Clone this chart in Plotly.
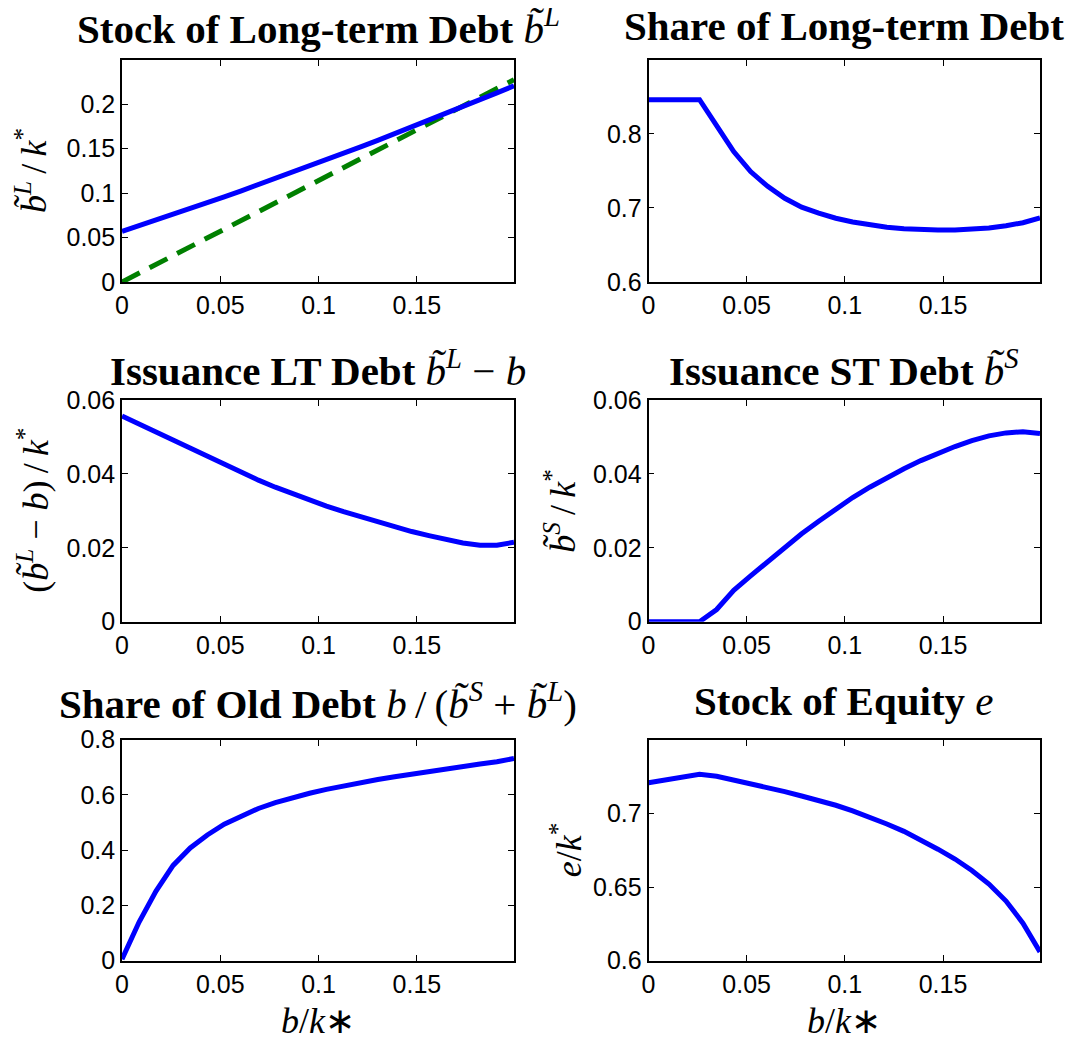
import plotly.graph_objects as go

# ---------------- data ----------------
x_grid = [0.0, 0.0087, 0.0173, 0.0260, 0.0347, 0.0434, 0.0520, 0.0607, 0.0694, 0.0780,
          0.0867, 0.0954, 0.1040, 0.1127, 0.1214, 0.1301, 0.1387, 0.1474, 0.1561, 0.1647,
          0.1734, 0.1821, 0.1907, 0.1994]

stock_lt = [0.0570, 0.0633, 0.0696, 0.0761, 0.0826, 0.0892, 0.0958, 0.1025, 0.1094, 0.1162,
            0.1232, 0.1302, 0.1373, 0.1445, 0.1518, 0.1591, 0.1665, 0.1740, 0.1816, 0.1891,
            0.1969, 0.2047, 0.2125, 0.2205]
ref_line_x = [0.0, 0.1994]
ref_line_y = [0.0, 0.2274]

share_lt = [0.846, 0.846, 0.846, 0.846, 0.811, 0.776, 0.749, 0.729, 0.713, 0.701,
            0.693, 0.686, 0.681, 0.677, 0.674, 0.672, 0.6705, 0.6700, 0.6703, 0.6712,
            0.673, 0.676, 0.680, 0.6865]

issue_lt = [0.0557, 0.0535, 0.0513, 0.0493, 0.0472, 0.0449, 0.0425, 0.0404, 0.0383, 0.0364,
            0.0346, 0.0329, 0.0313, 0.0298, 0.0284, 0.0271, 0.0258, 0.0244, 0.0233, 0.0222,
            0.0213, 0.0207, 0.0207, 0.0215]

issue_st = [0.0, 0.0, 0.0, 0.0, 0.0033, 0.0085, 0.0124, 0.0163, 0.0201, 0.0238,
            0.0272, 0.0305, 0.0336, 0.0364, 0.0390, 0.0414, 0.0436, 0.0456, 0.0474, 0.0490,
            0.0503, 0.0511, 0.0514, 0.0509]

share_old = [0.005, 0.140, 0.252, 0.345, 0.408, 0.455, 0.494, 0.525, 0.551, 0.572,
             0.591, 0.606, 0.620, 0.633, 0.645, 0.656, 0.666, 0.676, 0.685, 0.694,
             0.703, 0.712, 0.720, 0.732]

equity = [0.7208, 0.7227, 0.7246, 0.7265, 0.7252, 0.7228, 0.7203, 0.7176, 0.7148, 0.7118,
          0.7088, 0.7055, 0.7017, 0.6975, 0.6928, 0.6878, 0.6822, 0.6757, 0.6690, 0.6612,
          0.6520, 0.6405, 0.6255, 0.6060]

x_ticks = [0, 0.05, 0.1, 0.15]
x_ticktext = ["0", "0.05", "0.1", "0.15"]

y_ticks_1 = [0, 0.05, 0.1, 0.15, 0.2]
y_ticktext_1 = ["0", "0.05", "0.1", "0.15", "0.2"]
y_ticks_2 = [0.6, 0.7, 0.8]
y_ticktext_2 = ["0.6", "0.7", "0.8"]
y_ticks_3 = [0, 0.02, 0.04, 0.06]
y_ticktext_3 = ["0", "0.02", "0.04", "0.06"]
y_ticks_5 = [0, 0.2, 0.4, 0.6, 0.8]
y_ticktext_5 = ["0", "0.2", "0.4", "0.6", "0.8"]
y_ticks_6 = [0.6, 0.65, 0.7]
y_ticktext_6 = ["0.6", "0.65", "0.7"]

T = "b\u0303"  # b with tilde
HS = "\u2009"  # thin space
titles = [
    "<b>Stock of Long-term Debt</b> <i>" + T + "</i><sup><i>L</i></sup>",
    "<b>Share of Long-term Debt</b>",
    "<b>Issuance LT Debt</b> <i>" + T + "</i><sup><i>L</i></sup> \u2212 <i>b</i>",
    "<b>Issuance ST Debt</b> <i>" + T + "</i><sup><i>S</i></sup>",
    "<b>Share of Old Debt</b> <i>b</i>" + HS + "/" + HS + "(<i>" + T + "</i><sup><i>S</i></sup> + <i>" + T + "</i><sup><i>L</i></sup>)",
    "<b>Stock of Equity</b> <i>e</i>",
]
ylabels = [
    "<i>" + T + "</i><sup><i>L</i></sup>" + HS + "/" + HS + "<i>k</i><sup>*</sup>",
    None,
    "(<i>" + T + "</i><sup><i>L</i></sup> \u2212 <i>b</i>)" + HS + "/" + HS + "<i>k</i><sup>*</sup>",
    "<i>" + T + "</i><sup><i>S</i></sup>" + HS + "/" + HS + "<i>k</i><sup>*</sup>",
    None,
    "<i>e</i>/<i>k</i><sup>*</sup>",
]
xlabel = "<i>b</i>/<i>k</i>\u2217"

# ---------------- layout geometry (page pixels) ----------------
PAGE_W, PAGE_H = 1080, 1041
OFF = 8  # default body margin of the page
W, H = PAGE_W - OFF, PAGE_H - OFF
col_px = [(122, 514), (648.5, 1040)]
row_px = [(60, 282), (400, 621.7), (739.7, 960.7)]

def px_x(p):
    return (p - OFF) / W

def px_y(p):
    return 1 - (p - OFF) / H

def xdom(c):
    a, b = col_px[c]
    return [px_x(a), px_x(b)]

def ydom(r):
    t, b = row_px[r]
    return [px_y(b), px_y(t)]

BLUE = "rgb(0,0,255)"
GREEN = "rgb(0,128,0)"
LW = 5

fig = go.Figure()

panels = [
    (0, 0, [stock_lt], [0, 0.2495], y_ticks_1, y_ticktext_1),
    (0, 1, [share_lt], [0.6, 0.8995], y_ticks_2, y_ticktext_2),
    (1, 0, [issue_lt], [0, 0.06], y_ticks_3, y_ticktext_3),
    (1, 1, [issue_st], [0, 0.06], y_ticks_3, y_ticktext_3),
    (2, 0, [share_old], [0, 0.8], y_ticks_5, y_ticktext_5),
    (2, 1, [equity], [0.6, 0.75], y_ticks_6, y_ticktext_6),
]

tick_font = dict(family="Liberation Sans, Arial, sans-serif", size=25, color="black")
serif = "Liberation Serif, Times New Roman, serif"

for i, (r, c, series, yr, yt, ytt) in enumerate(panels):
    n = i + 1
    xa = "x" if n == 1 else f"x{n}"
    ya = "y" if n == 1 else f"y{n}"
    if n == 1:
        fig.add_trace(go.Scatter(x=ref_line_x, y=ref_line_y, mode="lines",
                                 line=dict(color=GREEN, width=LW, dash="20px,11px"),
                                 xaxis=xa, yaxis=ya, showlegend=False))
    for s in series:
        fig.add_trace(go.Scatter(x=x_grid, y=s, mode="lines",
                                 line=dict(color=BLUE, width=LW),
                                 xaxis=xa, yaxis=ya, showlegend=False))
    axcommon = dict(showline=True, linecolor="black", linewidth=1.6, mirror="ticks",
                    ticks="inside", ticklen=6, tickwidth=1, tickcolor="black",
                    showgrid=False, zeroline=False, tickfont=tick_font,
                    automargin=False)
    fig.layout[("xaxis" if n == 1 else f"xaxis{n}")] = dict(
        domain=xdom(c), range=[0, 0.1994], anchor=ya,
        tickvals=x_ticks, ticktext=x_ticktext, **axcommon)
    fig.layout[("yaxis" if n == 1 else f"yaxis{n}")] = dict(
        domain=ydom(r), range=yr, anchor=xa,
        tickvals=yt, ticktext=ytt, **axcommon)

annotations = []
title_y = [px_y(26), px_y(368), px_y(701)]
for i, (r, c, *_rest) in enumerate(panels):
    xd = xdom(c)
    annotations.append(dict(text=titles[i], xref="paper", yref="paper",
                            x=(xd[0] + xd[1]) / 2, y=title_y[r],
                            xanchor="center", yanchor="middle", showarrow=False,
                            font=dict(family=serif, size=41, color="black")))
ylab_x = {0: 31, 2: 34, 3: 561, 5: 566}
for i, lab in enumerate(ylabels):
    if lab is None:
        continue
    r, c = panels[i][0], panels[i][1]
    yd = ydom(r)
    annotations.append(dict(text=lab, xref="paper", yref="paper",
                            x=px_x(ylab_x[i]), y=(yd[0] + yd[1]) / 2,
                            xanchor="center", yanchor="middle", textangle=-90,
                            showarrow=False,
                            font=dict(family=serif, size=36, color="black")))
for c in (0, 1):
    xd = xdom(c)
    annotations.append(dict(text=xlabel, xref="paper", yref="paper",
                            x=(xd[0] + xd[1]) / 2, y=px_y(1021),
                            xanchor="center", yanchor="middle", showarrow=False,
                            font=dict(family=serif, size=36, color="black")))

fig.update_layout(width=W, height=H, margin=dict(l=0, r=0, t=0, b=0, autoexpand=False),
                  paper_bgcolor="white", plot_bgcolor="white",
                  annotations=annotations, showlegend=False)

fig.write_html("out.html")
